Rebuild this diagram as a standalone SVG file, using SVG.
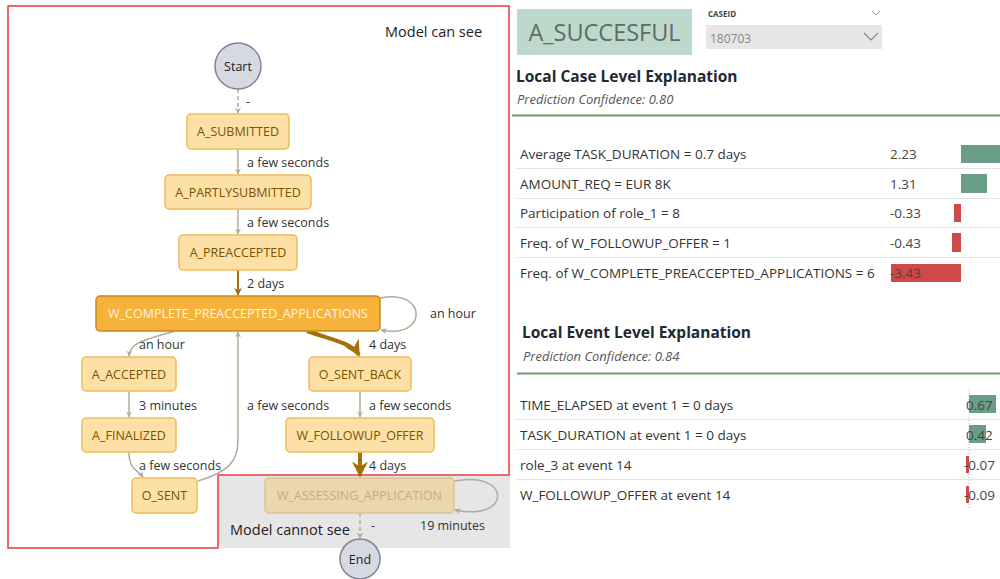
<svg xmlns="http://www.w3.org/2000/svg" width="1000" height="579" viewBox="0 0 1000 579">
<style>
text{font-family:"Open Sans","Noto Sans",sans-serif}
.node rect{fill:#fde0a6;stroke:#f1bb58;stroke-width:1.5}
.node text{font-size:12.5px;fill:#7a5200;text-anchor:middle}
.edge{fill:none;stroke:#b5aa98;stroke-width:1.5}
.thick{fill:none;stroke:#a5700c;stroke-width:4}
.lbl{font-size:12.5px;fill:#333}
.row{font-size:13.5px;fill:#333}
.val{font-size:13.5px;fill:#444}
.sep{stroke:#e3e3e3;stroke-width:1}
.pos{fill:#6a9e86}
.neg{fill:#cd4a48}
.h{font-size:15.5px;font-weight:bold;fill:#1e2a33}
.conf{font-size:13px;font-style:italic;fill:#555}
</style>
<defs>
<marker id="ah" viewBox="0 0 10 10" refX="9" refY="5" markerWidth="6" markerHeight="6" orient="auto" markerUnits="userSpaceOnUse">
<path d="M0,0 L10,5 L0,10 L3,5 Z" fill="#b5aa98"/>
</marker>
<marker id="ahd" viewBox="0 0 10 10" refX="9" refY="5" markerWidth="8" markerHeight="8" orient="auto" markerUnits="userSpaceOnUse">
<path d="M0,0 L10,5 L0,10 L3,5 Z" fill="#a5700c"/>
</marker>
<marker id="ahT" viewBox="0 0 10 10" refX="9" refY="5" markerWidth="16" markerHeight="16" orient="auto" markerUnits="userSpaceOnUse">
<path d="M0,0 L10,5 L0,10 L3,5 Z" fill="#a5700c"/>
</marker>
</defs>

<!-- regions -->
<rect x="219" y="476" width="291" height="72" fill="#e6e6e6"/>
<path d="M8,6 H509 V475 H218 V548 H8 Z" fill="none" stroke="#e8383d" stroke-width="1.5"/>
<text x="385" y="37" font-size="14.5" fill="#222">Model can see</text>
<text x="230" y="535" font-size="14.5" fill="#222">Model cannot see</text>

<!-- connectors -->
<g id="connectors">
<path class="edge" d="M238,89 V113" stroke-dasharray="4,3" marker-end="url(#ah)"/>
<path class="edge" d="M238,149 V174" marker-end="url(#ah)"/>
<path class="edge" d="M238,209 V234" marker-end="url(#ah)"/>
<path d="M238,270 V295" fill="none" stroke="#a5700c" stroke-width="2" marker-end="url(#ahd)"/>
<path class="edge" d="M380,298 C428,288 428,340 381,330" marker-end="url(#ah)"/>
<path class="edge" d="M175,331 C145,340 130,342 129,356" marker-end="url(#ah)"/>
<path class="thick" d="M307,331 C335,341 352,343 359,355" marker-end="url(#ahT)"/>
<path class="edge" d="M129,391 V417" marker-end="url(#ah)"/>
<path class="edge" d="M129,452 C129,470 138,470 143,477" marker-end="url(#ah)"/>
<path class="edge" d="M198,481 C228,472 238,462 238,440 V332" marker-end="url(#ah)"/>
<path class="edge" d="M360,391 V417" marker-end="url(#ah)"/>
<path class="thick" d="M360,452 V476" marker-end="url(#ahT)"/>
<path class="edge" d="M454,481 C512,470 512,522 455,510" marker-end="url(#ah)"/>
<path class="edge" d="M360,513 V538" stroke-dasharray="4,3" marker-end="url(#ah)"/>
<text class="lbl" x="246" y="106">-</text>
<text class="lbl" x="247" y="167">a few seconds</text>
<text class="lbl" x="247" y="227">a few seconds</text>
<text class="lbl" x="247" y="288">2 days</text>
<text class="lbl" x="430" y="318">an hour</text>
<text class="lbl" x="139" y="349">an hour</text>
<text class="lbl" x="369" y="349">4 days</text>
<text class="lbl" x="139" y="410">3 minutes</text>
<text class="lbl" x="247" y="410">a few seconds</text>
<text class="lbl" x="369" y="410">a few seconds</text>
<text class="lbl" x="139" y="470">a few seconds</text>
<text class="lbl" x="369" y="470">4 days</text>
<text class="lbl" x="371" y="530">-</text>
<text class="lbl" x="420" y="530">19 minutes</text>
</g>

<!-- nodes -->
<g id="start"><circle cx="238" cy="66" r="23" fill="#d6d9e2" stroke="#7d8495" stroke-width="1.5"/><text x="238" y="70.5" font-size="12.5" fill="#222" text-anchor="middle">Start</text></g>
<g id="a_submitted" class="node"><rect x="187" y="114" width="102" height="35" rx="4"/><text x="238" y="136">A_SUBMITTED</text></g>
<g id="a_partlysubmitted" class="node"><rect x="165" y="175" width="146" height="34" rx="4"/><text x="238" y="196.5">A_PARTLYSUBMITTED</text></g>
<g id="a_preaccepted" class="node"><rect x="179" y="235" width="118" height="35" rx="4"/><text x="238" y="257">A_PREACCEPTED</text></g>
<g id="w_complete" class="node"><rect x="96" y="296" width="284" height="35" rx="4" style="fill:#f6b23a;stroke:#c38a20"/><text x="238" y="318" style="fill:#fff6e4">W_COMPLETE_PREACCEPTED_APPLICATIONS</text></g>
<g id="a_accepted" class="node"><rect x="82" y="357" width="94" height="34" rx="4"/><text x="129" y="378.5">A_ACCEPTED</text></g>
<g id="a_finalized" class="node"><rect x="82" y="418" width="94" height="34" rx="4"/><text x="129" y="439.5">A_FINALIZED</text></g>
<g id="o_sent" class="node"><rect x="132" y="478" width="65" height="35" rx="4"/><text x="164.5" y="500">O_SENT</text></g>
<g id="o_sent_back" class="node"><rect x="309" y="357" width="102" height="34" rx="4"/><text x="360" y="378.5">O_SENT_BACK</text></g>
<g id="w_followup_offer" class="node"><rect x="286" y="418" width="148" height="34" rx="4"/><text x="360" y="439.5">W_FOLLOWUP_OFFER</text></g>
<g id="w_assessing" class="node"><rect x="265" y="478" width="189" height="35" rx="4" style="fill:#ead7ad;stroke:#dcc48f"/><text x="359.5" y="500" style="fill:#c8ad78">W_ASSESSING_APPLICATION</text></g>
<g id="end"><circle cx="360" cy="559" r="20" fill="#d6d9e2" stroke="#7d8495" stroke-width="1.5"/><text x="360" y="563.5" font-size="12.5" fill="#222" text-anchor="middle">End</text></g>

<!-- right panel -->
<g id="header">
<rect x="517" y="9" width="175" height="46" fill="#bcd9cb"/>
<text x="604.5" y="41" font-size="23.5" fill="#5e6b67" text-anchor="middle">A_SUCCESFUL</text>
<text x="708" y="17" font-size="8" font-weight="bold" fill="#444">CASEID</text>
<path d="M872,11 L876,15 L880,11" fill="none" stroke="#999" stroke-width="1"/>
<rect x="706" y="25" width="176" height="24" fill="#e6e6e6"/>
<text x="710" y="43" font-size="12" fill="#888">180703</text>
<path d="M864,33 L871,40 L878,33" fill="none" stroke="#888" stroke-width="1.2"/>
</g>

<g id="case_expl">
<text class="h" x="516" y="82">Local Case Level Explanation</text>
<text class="conf" x="517" y="104">Prediction Confidence: 0.80</text>
<line x1="512" y1="115.5" x2="1000" y2="115.5" stroke="#6d9c6a" stroke-width="2"/>
<line class="sep" x1="516" y1="168.5" x2="1000" y2="168.5"/>
<line class="sep" x1="516" y1="198.5" x2="1000" y2="198.5"/>
<line class="sep" x1="516" y1="227.5" x2="1000" y2="227.5"/>
<line class="sep" x1="516" y1="257.5" x2="1000" y2="257.5"/>
<text class="row" x="520" y="159">Average TASK_DURATION = 0.7 days</text>
<text class="row" x="520" y="189">AMOUNT_REQ = EUR 8K</text>
<text class="row" x="520" y="218">Participation of role_1 = 8</text>
<text class="row" x="520" y="248">Freq. of W_FOLLOWUP_OFFER = 1</text>
<text class="row" x="520" y="278">Freq. of W_COMPLETE_PREACCEPTED_APPLICATIONS = 6</text>
<rect class="pos" x="961" y="145" width="39" height="18"/>
<rect class="pos" x="961" y="174" width="26" height="19"/>
<rect class="neg" x="954" y="204" width="7" height="18"/>
<rect class="neg" x="952" y="233" width="9" height="19"/>
<rect class="neg" x="891" y="264" width="70" height="18"/>
<text class="val" x="890" y="159">2.23</text>
<text class="val" x="890" y="189">1.31</text>
<text class="val" x="890" y="218">-0.33</text>
<text class="val" x="890" y="248">-0.43</text>
<text class="val" x="890" y="278">-3.43</text>
</g>

<g id="event_expl">
<text class="h" x="522" y="338">Local Event Level Explanation</text>
<text class="conf" x="523" y="361">Prediction Confidence: 0.84</text>
<line x1="517" y1="373.5" x2="1000" y2="373.5" stroke="#6d9c6a" stroke-width="2"/>
<line class="sep" x1="516" y1="419.5" x2="1000" y2="419.5"/>
<line class="sep" x1="516" y1="449.5" x2="1000" y2="449.5"/>
<line class="sep" x1="516" y1="479.5" x2="1000" y2="479.5"/>
<line x1="969" y1="390" x2="969" y2="508" stroke="#bbb" stroke-width="1" stroke-dasharray="1,2"/>
<text class="row" x="520" y="410">TIME_ELAPSED at event 1 = 0 days</text>
<text class="row" x="520" y="440">TASK_DURATION at event 1 = 0 days</text>
<text class="row" x="520" y="470">role_3 at event 14</text>
<text class="row" x="520" y="500">W_FOLLOWUP_OFFER at event 14</text>
<rect class="pos" x="969" y="395" width="27" height="18"/>
<rect class="pos" x="969" y="425" width="17" height="18"/>
<rect class="neg" x="966" y="456" width="3" height="17"/>
<rect class="neg" x="966" y="486" width="3" height="17"/>
<text class="val" x="966" y="410">0.67</text>
<text class="val" x="966" y="440">0.42</text>
<text class="val" x="964" y="470">-0.07</text>
<text class="val" x="964" y="500">-0.09</text>
</g>
</svg>
